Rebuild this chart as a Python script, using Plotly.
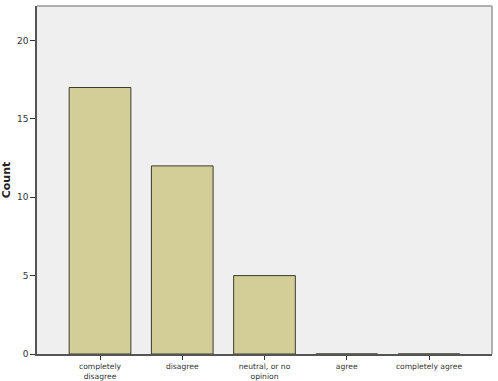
import plotly.graph_objects as go

categories = ["completely<br>disagree", "disagree", "neutral, or no<br>opinion", "agree", "completely agree"]
counts = [17, 12, 5, 0, 0]
y_ticks = [0, 5, 10, 15, 20]

fig = go.Figure()
fig.add_trace(go.Bar(
    x=list(range(len(categories))), y=counts,
    width=0.75,
    marker=dict(color="#d3ce98", line=dict(color="#3a3a2e", width=1)),
))

fig.update_layout(
    width=498, height=381,
    margin=dict(l=37, r=6, t=6, b=27),
    paper_bgcolor="white",
    plot_bgcolor="#efefef",
    showlegend=False,
    font=dict(family="DejaVu Sans", size=9, color="#333333"),
    xaxis=dict(
        range=[-0.766, 4.766],
        tickmode="array", tickvals=list(range(len(categories))), ticktext=categories,
        ticks="outside", ticklen=4, tickcolor="#333333",
        showline=True, linecolor="#555555", linewidth=1.5, mirror=False,
        showgrid=False, zeroline=False, automargin=False, layer="above traces",
        tickfont=dict(size=7.6),
    ),
    yaxis=dict(
        range=[0, 22.2],
        tickmode="array", tickvals=y_ticks,
        ticks="outside", ticklen=5, tickcolor="#333333",
        showline=True, linecolor="#555555", linewidth=1.5,
        showgrid=False, zeroline=False, automargin=False,
        title=dict(text="<b>Count</b>", font=dict(size=11, color="#222222"), standoff=6),
        tickfont=dict(size=9),
    ),
)
# Light frame on top/right
fig.add_shape(type="line", xref="paper", yref="paper", x0=0, x1=1, y0=1, y1=1,
              line=dict(color="#999999", width=1.5), layer="above")
fig.add_shape(type="line", xref="paper", yref="paper", x0=1, x1=1, y0=0, y1=1,
              line=dict(color="#999999", width=1.5), layer="above")

fig.write_html("out.html")
